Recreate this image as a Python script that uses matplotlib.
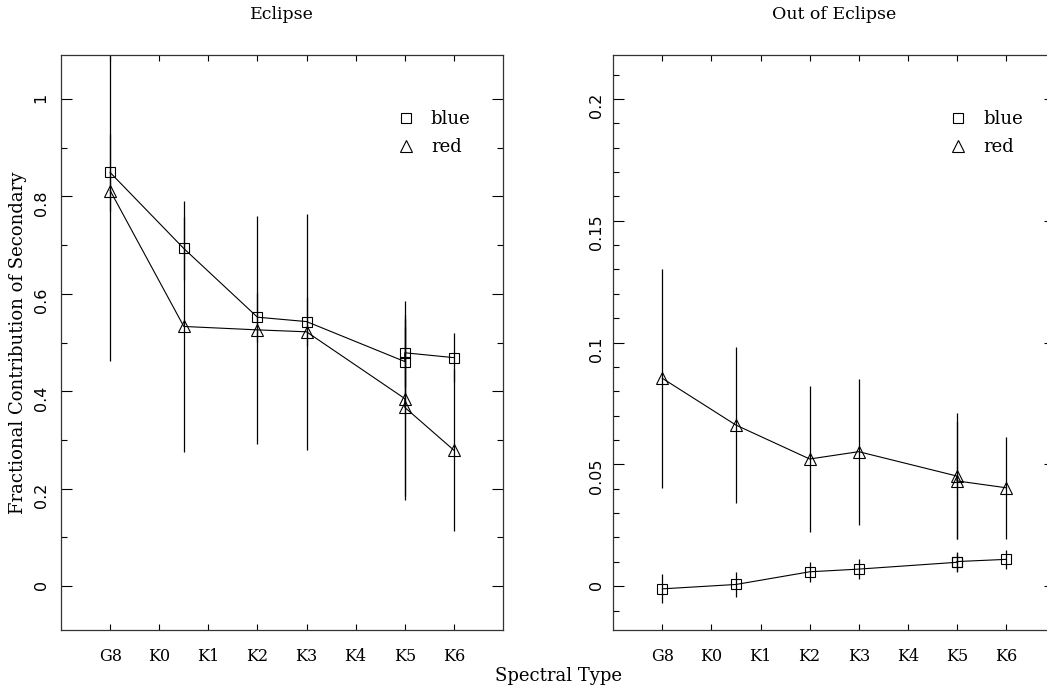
import matplotlib
matplotlib.use("Agg")
import matplotlib.pyplot as plt
from matplotlib.ticker import FixedLocator, MultipleLocator
from matplotlib.lines import Line2D

# ---------------- data ----------------
spectral_types = ['G8', 'K0', 'K1', 'K2', 'K3', 'K4', 'K5', 'K6']
spt_pos = [0, 1.5, 3, 4, 6, 6, 7]          # position on the spectral-type axis

ecl_blue = [0.849, 0.693, 0.552, 0.543, 0.461, 0.479, 0.469]
ecl_blue_err = [0.08, 0.065, 0.05, 0.05, 0.07, 0.07, 0.05]
ecl_red = [0.812, 0.533, 0.526, 0.522, 0.385, 0.367, 0.279]
ecl_red_err = [0.35, 0.258, 0.234, 0.242, 0.20, 0.19, 0.166]

out_blue = [-0.0011, 0.0007, 0.0059, 0.0070, 0.0098, 0.0101, 0.0110]
out_blue_err = [0.006, 0.005, 0.004, 0.004, 0.004, 0.004, 0.004]
out_red = [0.0853, 0.0661, 0.0522, 0.0552, 0.0452, 0.0432, 0.0404]
out_red_err = [0.045, 0.032, 0.030, 0.030, 0.026, 0.024, 0.021]

SERIF = 'DejaVu Serif'
SANS = 'DejaVu Sans'

fig = plt.figure(figsize=(10.47, 6.89), dpi=100)
axL = fig.add_axes([0.0583, 0.0856, 0.4221, 0.8345])
axR = fig.add_axes([0.5858, 0.0856, 0.4219, 0.8345])

def draw(ax, blue, berr, red, rerr, ymax, major, minor, labels_fmt, ypad):
    ax.errorbar(spt_pos, blue, yerr=berr, fmt='none', ecolor='black', elinewidth=0.9, capsize=0)
    ax.errorbar(spt_pos, red, yerr=rerr, fmt='none', ecolor='black', elinewidth=0.9, capsize=0)
    ax.plot(spt_pos, blue, color='black', lw=0.8, marker='s', ms=7.7, mfc='none', mec='black', mew=0.8)
    ax.plot(spt_pos, red, color='black', lw=0.8, marker='^', ms=8.7, mfc='none', mec='black', mew=0.8)
    ax.set_xlim(-1, 8)
    ax.set_ylim(-0.09 * ymax, 1.09 * ymax)
    # x ticks: labels on every type, long ticks on alternate types
    ax.xaxis.set_major_locator(FixedLocator(range(len(spectral_types))))
    ax.set_xticklabels(spectral_types, fontfamily=SERIF, fontsize=11.5)
    ax.xaxis.set_minor_locator(FixedLocator([1, 3, 5, 7]))
    ax.tick_params(axis='x', which='major', direction='in', length=4, width=0.8,
                   top=True, bottom=True, pad=13)
    ax.tick_params(axis='x', which='minor', direction='in', length=8, width=0.8,
                   top=True, bottom=True)
    ax.yaxis.set_major_locator(MultipleLocator(major))
    ax.yaxis.set_minor_locator(MultipleLocator(minor))
    ax.tick_params(axis='y', which='major', direction='in', length=8, width=0.8,
                   left=True, right=True, labelrotation=90, pad=ypad, labelsize=11.5)
    ax.tick_params(axis='y', which='minor', direction='in', length=4, width=0.8,
                   left=True, right=True)
    ax.yaxis.set_major_formatter(plt.FuncFormatter(labels_fmt))
    for lab in ax.get_yticklabels():
        lab.set_fontfamily(SANS)
    for s in ax.spines.values():
        s.set_linewidth(0.9)
        s.set_color('#333333')
    handles = [Line2D([], [], ls='none', marker='s', ms=7.7, mfc='none', mec='black', mew=0.8),
               Line2D([], [], ls='none', marker='^', ms=8.7, mfc='none', mec='black', mew=0.8)]
    ax.legend(handles, ['blue', 'red'], loc='upper left', bbox_to_anchor=(0.755, 0.904),
              frameon=False, handlelength=1.2, handletextpad=0.8, labelspacing=0.55,
              borderpad=0, borderaxespad=0, prop={'family': SERIF, 'size': 13})

def fmt_left(v, pos):
    if abs(v) < 1e-9:
        return '0'
    return ('%g' % round(v, 3))

draw(axL, ecl_blue, ecl_blue_err, ecl_red, ecl_red_err, 1.0, 0.2, 0.1, fmt_left, 9)
draw(axR, out_blue, out_blue_err, out_red, out_red_err, 0.2, 0.05, 0.01, fmt_left, 7)

axL.set_title('Eclipse', fontfamily=SERIF, fontsize=12.5, pad=26)
axR.set_title('Out of Eclipse', fontfamily=SERIF, fontsize=12.5, pad=26)
axL.set_ylabel('Fractional Contribution of Secondary', fontfamily=SERIF, fontsize=13, labelpad=5)
fig.text(0.533, 0.019, 'Spectral Type', ha='center', va='center', fontfamily=SERIF, fontsize=13)

fig.savefig('out.png', dpi=100)
